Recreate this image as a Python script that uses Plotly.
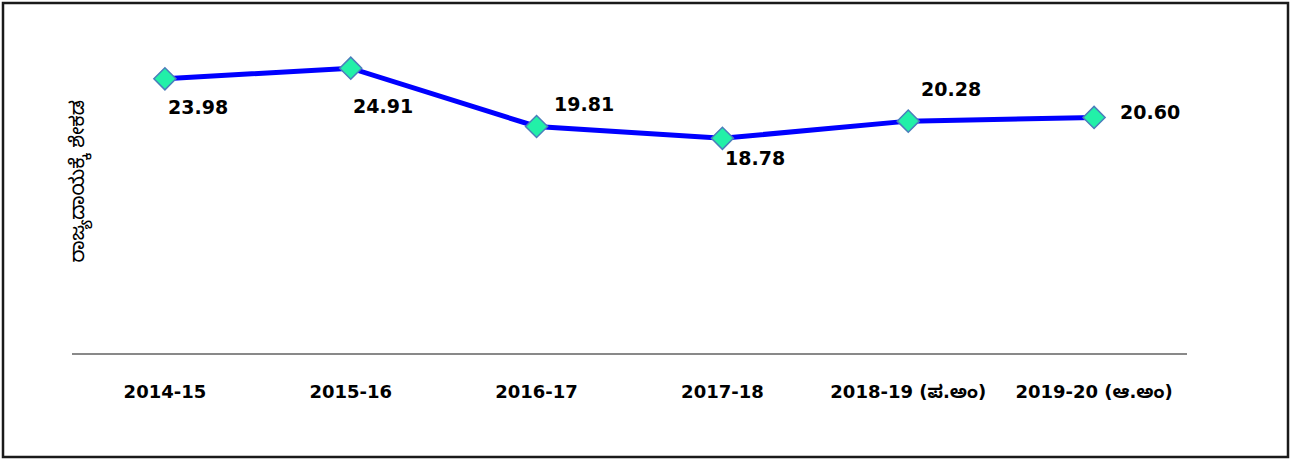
import plotly.graph_objects as go

categories = ["2014-15", "2015-16", "2016-17", "2017-18", "2018-19 (ಪ.ಅಂ)", "2019-20 (ಆ.ಅಂ)"]
values = [23.98, 24.91, 19.81, 18.78, 20.28, 20.60]
value_labels = ["23.98", "24.91", "19.81", "18.78", "20.28", "20.60"]
label_dx = [33, 32, 47, 33, 43, 56]
label_dy = [-28, -38, 23, -20, 32, 5]
y_title = "ರಾಜ್ಯದಾಯಕ್ಕೆ ಶೇಕಡ"

W, H = 1296, 460
ML, MR, MT, MB = 72, 109, 10, 107
PW = W - ML - MR
PH = H - MT - MB

FONT = "DejaVu Sans, Noto Sans Kannada, Noto Sans, sans-serif"

fig = go.Figure()
fig.add_trace(go.Scatter(
    x=categories, y=values, mode="lines+markers",
    line=dict(color="#0000FF", width=5),
    marker=dict(symbol="diamond", size=17, color="#22F0A8",
                line=dict(color="#4A7EBB", width=1.5)),
    hoverinfo="x+y", showlegend=False,
))

for c, v, t, dx, dy in zip(categories, values, value_labels, label_dx, label_dy):
    fig.add_annotation(x=c, y=v, xref="x", yref="y", text=t, showarrow=False,
                       xshift=dx, yshift=dy,
                       font=dict(family=FONT, size=19, color="black", weight="bold"))

def px2paper_x(px):
    return (px - ML) / PW

def px2paper_y(py):
    return (H - MB - py) / PH

fig.add_shape(type="rect", xref="paper", yref="paper",
              x0=px2paper_x(3), x1=px2paper_x(1288),
              y0=px2paper_y(457), y1=px2paper_y(3),
              line=dict(color="#1a1a1a", width=2.5), fillcolor="rgba(0,0,0,0)",
              layer="below")

fig.add_annotation(x=px2paper_x(78), y=0.5, xref="paper", yref="paper",
                   text=y_title, textangle=-90, showarrow=False,
                   xanchor="center", yanchor="middle",
                   font=dict(family=FONT, size=20, color="black"))

fig.update_layout(
    width=W, height=H,
    margin=dict(l=ML, r=MR, t=MT, b=MB),
    paper_bgcolor="white", plot_bgcolor="white",
    xaxis=dict(type="category", range=[-0.5, 5.5], showgrid=False,
               showline=True, linecolor="#898989", linewidth=1.5,
               ticks="", ticklabelstandoff=22,
               tickfont=dict(family=FONT, size=18, color="black", weight="bold")),
    yaxis=dict(range=[0, 30], showgrid=False, showticklabels=False,
               zeroline=False, showline=False, ticks=""),
)

fig.write_html("out.html", config={"displayModeBar": False},
               post_script="document.body.style.margin='0px';document.body.style.padding='0px';")
